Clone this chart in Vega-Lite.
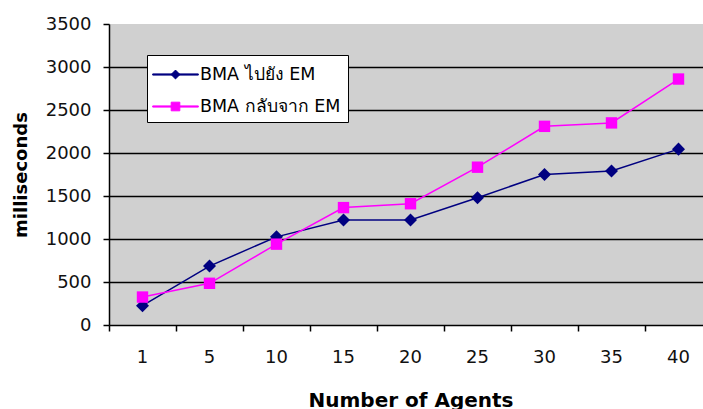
{
  "$schema": "https://vega.github.io/schema/vega-lite/v6.json",
  "autosize": "none",
  "padding": {"left": 109, "top": 24, "right": 0, "bottom": 84},
  "width": 603,
  "height": 301,
  "background": "white",
  "config": {
    "view": {"stroke": null, "fill": "#d0d0d0"},
    "font": "DejaVu Sans"
  },
  "data": {
    "values": [
      {"agents": 1, "series": "BMA ไปยัง EM", "ms": 225},
      {"agents": 5, "series": "BMA ไปยัง EM", "ms": 685},
      {"agents": 10, "series": "BMA ไปยัง EM", "ms": 1025},
      {"agents": 15, "series": "BMA ไปยัง EM", "ms": 1220},
      {"agents": 20, "series": "BMA ไปยัง EM", "ms": 1220},
      {"agents": 25, "series": "BMA ไปยัง EM", "ms": 1480},
      {"agents": 30, "series": "BMA ไปยัง EM", "ms": 1750},
      {"agents": 35, "series": "BMA ไปยัง EM", "ms": 1790},
      {"agents": 40, "series": "BMA ไปยัง EM", "ms": 2045},
      {"agents": 1, "series": "BMA กลับจาก EM", "ms": 325},
      {"agents": 5, "series": "BMA กลับจาก EM", "ms": 485},
      {"agents": 10, "series": "BMA กลับจาก EM", "ms": 940},
      {"agents": 15, "series": "BMA กลับจาก EM", "ms": 1365},
      {"agents": 20, "series": "BMA กลับจาก EM", "ms": 1410},
      {"agents": 25, "series": "BMA กลับจาก EM", "ms": 1835},
      {"agents": 30, "series": "BMA กลับจาก EM", "ms": 2310},
      {"agents": 35, "series": "BMA กลับจาก EM", "ms": 2350},
      {"agents": 40, "series": "BMA กลับจาก EM", "ms": 2860}
    ]
  },
  "encoding": {
    "x": {
      "field": "agents",
      "type": "ordinal",
      "scale": {"type": "band", "paddingInner": 0, "paddingOuter": 0},
      "axis": {
        "title": "Number of Agents",
        "titleFont": "DejaVu Sans",
        "titleFontSize": 20,
        "titleFontWeight": "bold",
        "titleColor": "#000",
        "titlePadding": 24,
        "labelAngle": 0,
        "labelFontSize": 18,
        "labelColor": "#111",
        "labelPadding": 17,
        "tickSize": 6,
        "tickColor": "#000",
        "tickWidth": 1.5,
        "domainColor": "#000",
        "domainWidth": 1.5,
        "bandPosition": 0,
        "grid": false
      }
    },
    "y": {
      "field": "ms",
      "type": "quantitative",
      "scale": {"domain": [0, 3500], "nice": false},
      "axis": {
        "title": "milliseconds",
        "titleFont": "DejaVu Sans",
        "titleFontSize": 18,
        "titleFontWeight": "bold",
        "titleColor": "#000",
        "titlePadding": 15,
        "values": [0, 500, 1000, 1500, 2000, 2500, 3000, 3500],
        "format": "d",
        "labelFontSize": 18,
        "labelColor": "#111",
        "labelPadding": 12,
        "tickSize": 6,
        "tickColor": "#000",
        "tickWidth": 1.5,
        "domainColor": "#000",
        "domainWidth": 1.5,
        "grid": true,
        "gridColor": {"condition": {"test": "datum.value === 3500 || datum.value === 0", "value": "transparent"}, "value": "#000"},
        "gridWidth": 1.6
      }
    },
    "color": {
      "field": "series",
      "type": "nominal",
      "scale": {"domain": ["BMA ไปยัง EM", "BMA กลับจาก EM"], "range": ["#000080", "#ff00ff"]},
      "legend": {
        "title": null,
        "orient": "none",
        "legendX": 38,
        "legendY": 31,
        "padding": 7,
        "rowPadding": 11,
        "symbolSize": 576,
        "symbolOffset": 9,
        "labelOffset": 12,
        "labelFont": "DejaVu Sans",
        "labelFontSize": 17.5,
        "labelColor": "#000",
        "labelLimit": 0,
        "fillColor": "white",
        "strokeColor": "#000",
        "symbolStrokeWidth": 1,
        "symbolOpacity": 1
      }
    }
  },
  "layer": [
    {"mark": {"type": "line", "strokeWidth": 1.5}},
    {
      "transform": [{"filter": {"field": "series", "equal": "BMA ไปยัง EM"}}],
      "mark": {"type": "point", "filled": true, "opacity": 1, "shape": "diamond", "size": 170}
    },
    {
      "transform": [{"filter": {"field": "series", "equal": "BMA กลับจาก EM"}}],
      "mark": {"type": "point", "filled": true, "opacity": 1, "shape": "square", "size": 130}
    },
    {
      "transform": [{"filter": "datum.ms < 0"}],
      "mark": {"type": "point", "filled": true, "opacity": 1},
      "encoding": {
        "shape": {
          "field": "series",
          "type": "nominal",
          "scale": {
            "domain": ["BMA ไปยัง EM", "BMA กลับจาก EM"],
            "range": [
              "M-1.9,-0.05L1.9,-0.05L1.9,0.05L-1.9,0.05ZM0,-0.37L0.37,0L0,0.37L-0.37,0Z",
              "M-1.9,-0.05L1.9,-0.05L1.9,0.05L-1.9,0.05ZM-0.36,-0.36L0.36,-0.36L0.36,0.36L-0.36,0.36Z"
            ]
          },
          "legend": {
            "title": null,
            "orient": "none",
            "legendX": 38,
            "legendY": 31,
            "padding": 7,
            "rowPadding": 11,
            "symbolSize": 576,
            "symbolOffset": 9,
            "labelOffset": 12,
            "labelFont": "DejaVu Sans",
            "labelFontSize": 17.5,
            "labelColor": "#000",
            "labelLimit": 0,
            "fillColor": "white",
            "strokeColor": "#000",
            "symbolStrokeWidth": 1,
            "symbolOpacity": 1
          }
        }
      }
    }
  ]
}
